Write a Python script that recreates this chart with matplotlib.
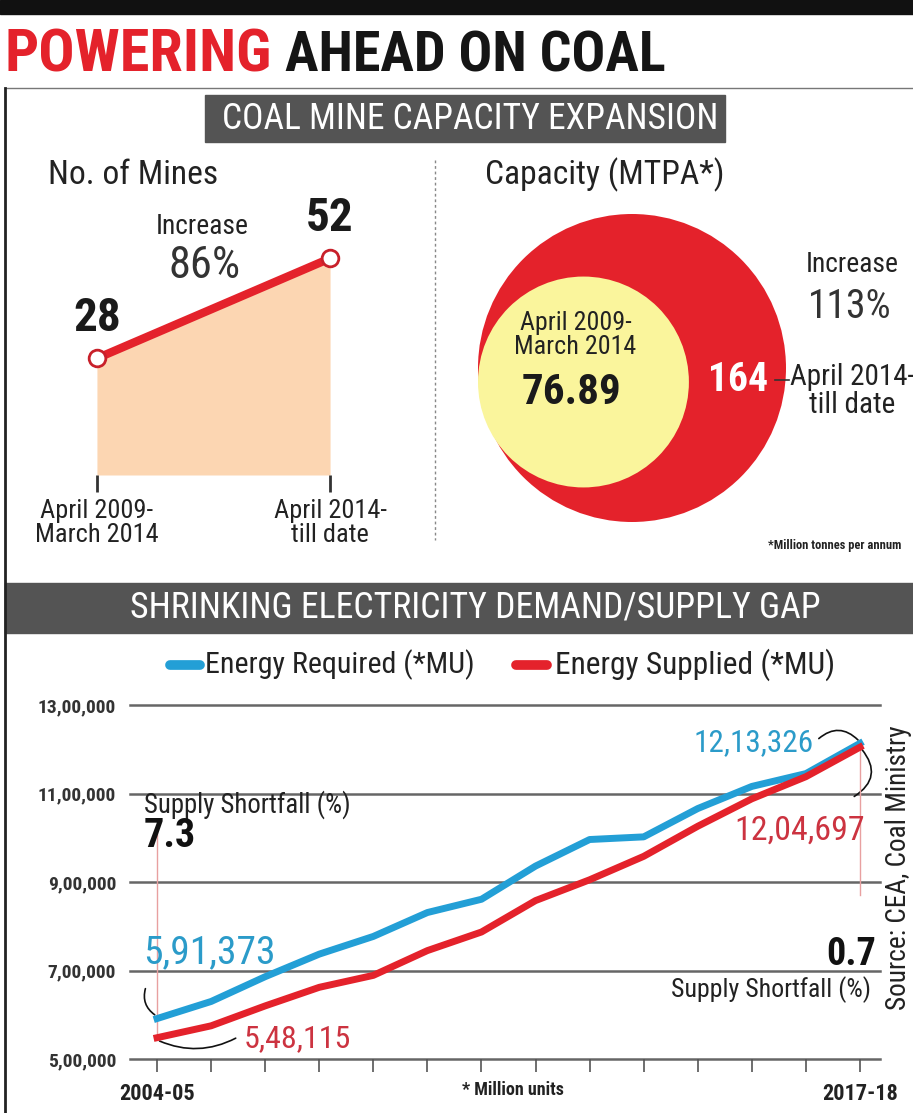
import numpy as np
import matplotlib.pyplot as plt
from matplotlib import font_manager as fm
from matplotlib.patches import Circle, Rectangle, FancyArrowPatch

W, H = 913, 1113

# ---- data ----
periods = ['April 2009-\nMarch 2014', 'April 2014-\ntill date']
mines = [28, 52]
capacity = [76.89, 164]

years = ['2004-05', '2005-06', '2006-07', '2007-08', '2008-09', '2009-10', '2010-11',
         '2011-12', '2012-13', '2013-14', '2014-15', '2015-16', '2016-17', '2017-18']
required = [591373, 630000, 686000, 737000, 777000, 831000, 861000,
            936000, 996000, 1002000, 1066000, 1116000, 1145000, 1213326]
supplied = [548115, 575000, 620000, 662000, 689000, 745000, 787000,
            858000, 905000, 958000, 1026000, 1088000, 1138000, 1204697]
yticks = [500000, 700000, 900000, 1100000, 1300000]
ytick_labels = ['5,00,000', '7,00,000', '9,00,000', '11,00,000', '13,00,000']

RED = '#e4222b'
BLUE = '#239fd6'

# pick a narrow face if one is installed
names = {f.name for f in fm.fontManager.ttflist}
NARROW = 'Liberation Sans'
for cand in ['Liberation Sans Narrow', 'Roboto Condensed', 'Open Sans Condensed',
             'DejaVu Sans Condensed', 'Liberation Sans']:
    if cand in names:
        NARROW = cand
        break
plt.rcParams['font.family'] = [NARROW, 'DejaVu Sans']

fig = plt.figure(figsize=(W / 100, H / 100), dpi=100)
renderer = fig.canvas.get_renderer()
bg = fig.add_axes([0, 0, 1, 1])
bg.set_xlim(0, W)
bg.set_ylim(H, 0)
bg.axis('off')


def px_axes(x0, y0, x1, y1):
    a = fig.add_axes([x0 / W, 1 - y1 / H, (x1 - x0) / W, (y1 - y0) / H])
    a.patch.set_alpha(0)
    return a


def fit(t, width, vertical=False):
    # scale the font so the text spans the given number of pixels
    e = t.get_window_extent(renderer)
    cur = e.height if vertical else e.width
    t.set_fontsize(t.get_fontsize() * width / cur)
    return t


# ---- frame / headings ----
bg.add_patch(Rectangle((0, 0), W, 14, color='#111111'))
bg.plot([5, W], [88, 88], color='#777777', lw=1)
bg.plot([5, 5], [88, H], color='#222222', lw=2)

fit(bg.text(5, 72, 'POWERING', color=RED, fontsize=44, fontweight='bold',
            va='baseline'), 267)
fit(bg.text(285, 72, 'AHEAD ON COAL', color='#151515', fontsize=44, fontweight='bold',
            va='baseline'), 380)

bg.add_patch(Rectangle((205, 95), 520, 47, color='#545454'))
fit(bg.text(470, 119, 'COAL MINE CAPACITY EXPANSION', color='white', fontsize=26,
            ha='center', va='center'), 496)

bg.add_patch(Rectangle((5, 583), W - 5, 50, color='#545454'))
fit(bg.text(475, 608, 'SHRINKING ELECTRICITY DEMAND/SUPPLY GAP', color='white',
            fontsize=27, ha='center', va='center'), 690)

bg.plot([435, 435], [160, 540], color='#888888', lw=1, ls=(0, (2, 2)))

# ---- No. of mines ----
fit(bg.text(48, 175, 'No. of Mines', fontsize=19, color='#222222', va='center'), 170)
ax1 = px_axes(27, 225, 400, 475)
xs = np.arange(len(mines))
ax1.fill_between(xs, mines, 0, color='#fcd6b2', lw=0)
ax1.plot(xs, mines, color=RED, lw=6, solid_capstyle='butt', zorder=3)
ax1.plot(xs, mines, 'o', ms=12, mfc='white', mec='#c8202a', mew=2, zorder=4)
ax1.set_xlim(-0.3, 1.3)
ax1.set_ylim(0, 60)
for s in ax1.spines.values():
    s.set_visible(False)
ax1.set_yticks([])
ax1.set_xticks(xs)
ax1.set_xticklabels(periods, fontsize=19, color='#222222', linespacing=1.0)
ax1.tick_params(axis='x', length=12, width=2, color='#333333', pad=5, direction='out')
for x, v in zip(xs, mines):
    fit(ax1.annotate(str(v), (x, v), xytext=(0, 13), textcoords='offset points',
                     ha='center', va='bottom', fontsize=26, fontweight='bold',
                     color='#1a1a1a'), 48)
fit(bg.text(202, 226, 'Increase', fontsize=16, color='#222222', ha='center',
            va='center'), 93)
fit(bg.text(205, 266, f'{round((mines[1] / mines[0] - 1) * 100)}%', fontsize=24,
            color='#333333', ha='center', va='center'), 72)

# ---- Capacity circles ----
fit(bg.text(485, 175, 'Capacity (MTPA*)', fontsize=19, color='#222222', va='center'), 240)
r_out = 154
r_in = r_out * np.sqrt(capacity[0] / capacity[1])
left = 478
bg.add_patch(Circle((left + r_out, 368), r_out, color=RED, lw=0))
bg.add_patch(Circle((left + r_in, 382), r_in, color='#faf59c', lw=0))
fit(bg.text(left + r_in - 8, 335, periods[0], fontsize=16, color='#222222', ha='center',
            va='center', linespacing=1.0), 122)
fit(bg.text(left + r_in - 12, 393, f'{capacity[0]}', fontsize=26, fontweight='bold',
            color='#1a1a1a', ha='center', va='center'), 100)
fit(bg.text(738, 380, f'{capacity[1]}', fontsize=26, fontweight='bold', color='white',
            ha='center', va='center'), 60)
bg.plot([775, 789], [380, 380], color='#333333', lw=1.2)
fit(bg.text(790, 391, periods[1], fontsize=16, color='#222222', ha='left', va='center',
            linespacing=1.0, multialignment='center'), 125)
fit(bg.text(852, 264, 'Increase', fontsize=16, color='#222222', ha='center',
            va='center'), 93)
fit(bg.text(850, 306, f'{round((capacity[1] / capacity[0] - 1) * 100)}%', fontsize=24,
            color='#333333', ha='center', va='center'), 84)
bg.text(768, 546, '*Million tonnes per annum', fontsize=9, fontweight='bold',
        color='#222222', va='center')

# ---- legend ----
bg.plot([170, 200], [665, 665], color=BLUE, lw=7, solid_capstyle='round')
fit(bg.text(205, 665, 'Energy Required (*MU)', fontsize=19, color='#222222',
            va='center'), 270)
bg.plot([516, 547], [665, 665], color=RED, lw=7, solid_capstyle='round')
fit(bg.text(555, 665, 'Energy Supplied (*MU)', fontsize=19, color='#222222',
            va='center'), 280)

# ---- demand / supply chart ----
ax = px_axes(130, 705, 880, 1059)
x = np.arange(len(years))
for yv in yticks:
    ax.axhline(yv, color='#666666', lw=1.8, zorder=1, clip_on=False)
ax.plot(x, required, color=BLUE, lw=5, zorder=3, solid_joinstyle='round')
ax.plot(x, supplied, color=RED, lw=5, zorder=3, solid_joinstyle='round')
ax.set_xlim(-0.5, 13.37)
ax.set_ylim(500000, 1300000)
for s in ax.spines.values():
    s.set_visible(False)
ax.set_yticks(yticks)
ax.set_yticklabels(ytick_labels, fontsize=14, fontweight='bold', color='#333333')
ax.tick_params(axis='y', length=0, pad=10)
ax.set_xticks(x)
ax.set_xticklabels([years[0]] + [''] * 12 + [years[-1]], fontsize=16,
                   fontweight='bold', color='#222222')
ax.tick_params(axis='x', length=9, width=1.2, color='#555555', pad=8)

# start annotations
ax.plot([0, 0], [supplied[0], 1020000], color='#e8a0a0', lw=1, zorder=2)
fit(ax.text(-0.25, 1075000, 'Supply Shortfall (%)', fontsize=15, color='#222222',
            va='center'), 207)
fit(ax.text(-0.25, 1005000, f'{(1 - supplied[0] / required[0]) * 100:.1f}', fontsize=26,
            fontweight='bold', color='#111111', va='center'), 52)
fit(ax.text(-0.25, 740000, '5,91,373', fontsize=22, color='#2b9bc9', va='center'), 132)
fit(ax.text(1.6, 545000, '5,48,115', fontsize=22, color='#cc3340', va='center'), 107)
ax.add_patch(FancyArrowPatch((-0.2, 665000), (0, required[0] + 5000),
                             connectionstyle='arc3,rad=0.4', arrowstyle='-',
                             color='#111111', lw=1.2))
ax.add_patch(FancyArrowPatch((0, supplied[0] - 5000), (1.5, 550000),
                             connectionstyle='arc3,rad=0.25', arrowstyle='-',
                             color='#111111', lw=1.2))

# end annotations
ax.plot([13, 13], [supplied[-1], 870000], color='#e8a0a0', lw=1, zorder=2)
fit(ax.text(12.15, 1215000, '12,13,326', fontsize=22, color='#2b9bc9', va='center',
            ha='right'), 120)
fit(ax.text(13.1, 1015000, '12,04,697', fontsize=22, color='#cc3340', va='center',
            ha='right'), 130)
ax.add_patch(FancyArrowPatch((12.2, 1220000), (13.0, required[-1] + 3000),
                             connectionstyle='arc3,rad=-0.5', arrowstyle='-',
                             color='#111111', lw=1.2))
ax.add_patch(FancyArrowPatch((13.0, supplied[-1]), (12.85, 1090000),
                             connectionstyle='arc3,rad=-0.6', arrowstyle='-',
                             color='#111111', lw=1.2))
fit(ax.text(13.3, 737000, f'{(1 - supplied[-1] / required[-1]) * 100:.1f}', fontsize=26,
            fontweight='bold', color='#111111', va='center', ha='right'), 50)
fit(ax.text(13.2, 658000, 'Supply Shortfall (%)', fontsize=15, color='#222222',
            va='center', ha='right'), 200)
fit(bg.text(513, 1090, '* Million units', fontsize=14, fontweight='bold', color='#222222',
            ha='center', va='center'), 103)
fit(bg.text(899, 868, 'Source: CEA, Coal Ministry', fontsize=15, color='#222222',
            rotation=90, ha='center', va='center'), 285, vertical=True)

plt.savefig('out.png', dpi=100)
